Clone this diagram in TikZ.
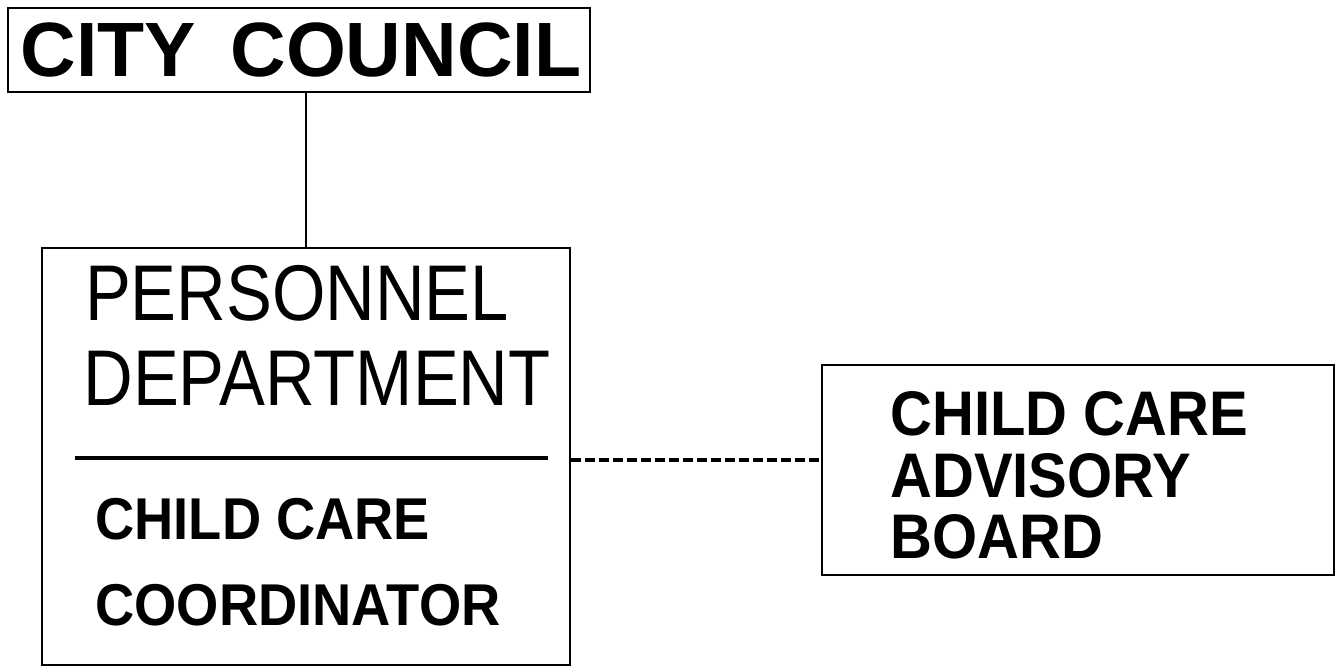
\documentclass[tikz,border=0pt]{standalone}
\usepackage{fontspec}
\setmainfont{Liberation Sans}
\newfontfamily\narrowfont[FakeStretch=0.87]{Liberation Sans}
\newfontfamily\semifont[FakeStretch=0.92]{Liberation Sans}
\begin{document}
\begin{tikzpicture}[x=0.5pt,y=-0.5pt,
    box/.style={draw,line width=1.4pt,inner sep=0pt},
    heading/.style={inner sep=0pt,font=\fontsize{38.5}{39}\selectfont\bfseries},
    deptlabel/.style={inner sep=0pt,font=\narrowfont\fontsize{39.5}{40}\selectfont},
    officelabel/.style={inner sep=0pt,anchor=west,font=\semifont\fontsize{29.5}{30}\selectfont\bfseries},
    boardlabel/.style={inner sep=0pt,anchor=west,font=\semifont\fontsize{31.5}{32}\selectfont\bfseries}]
        \useasboundingbox (0,0) rectangle (1336,671);
        %% boxes
        \node[box,minimum width=291pt,minimum height=42pt] (council) at (299,50) {};
        \node[box,minimum width=264pt,minimum height=208.5pt] (personnel) at (306,456.5) {};
        \node[box,minimum width=256pt,minimum height=105pt] (board) at (1078,470) {};
        %% texts
        \node[heading] (councilname) at (301,50) {CITY\ \,COUNCIL};
        \node[deptlabel] (dept1) at (297,293) {PERSONNEL};
        \node[deptlabel] (dept2) at (317,378) {DEPARTMENT};
        \node[officelabel] (office1) at (95,519) {CHILD CARE};
        \node[officelabel] (office2) at (95,605) {COORDINATOR};
        \node[boardlabel] (board1) at (890,414) {CHILD CARE};
        \node[boardlabel] (board2) at (890,476) {ADVISORY};
        \node[boardlabel] (board3) at (890,537) {BOARD};
        %% rule under the department
        \draw[line width=1.6pt] (75,458) -- (548,458);
        %% links
        \draw[line width=1.4pt] (personnel.north |- council.south) -- (personnel.north);
        \draw[line width=2pt,dash pattern=on 5pt off 2pt]
            (personnel.east |- 0,460) -- (board.west |- 0,460);
    \end{tikzpicture}
\end{document}
